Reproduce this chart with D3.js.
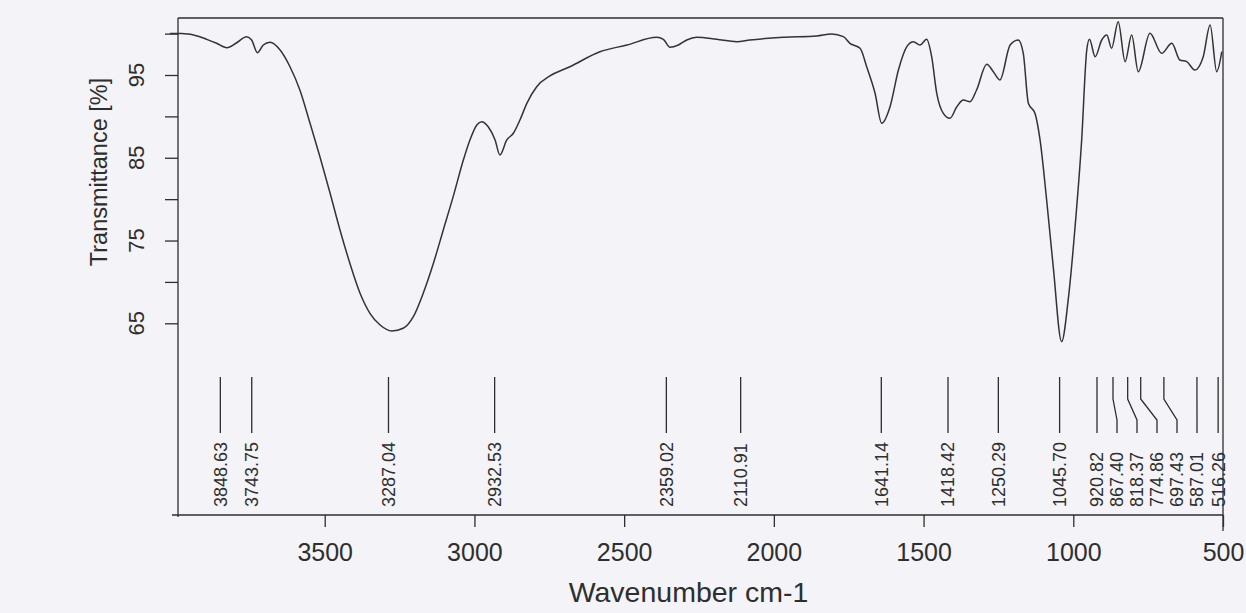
<!DOCTYPE html>
<html>
<head>
<meta charset="utf-8">
<script src="https://cdn.jsdelivr.net/npm/d3@7"></script>
<style>
  html, body { margin: 0; padding: 0; background: #f3f3f8; }
  svg { display: block; }
  text { font-family: "Liberation Sans", Arial, sans-serif; fill: #2e2e2e; }
</style>
</head>
<body>
<svg id="chart" width="1246" height="613"></svg>
<script>
// ---- data ----
const wavenumbers = [4017, 3978, 3917, 3894, 3861, 3827, 3794, 3761, 3744, 3725, 3705, 3683, 3649, 3616, 3583, 3549, 3516, 3482, 3449, 3416, 3382, 3349, 3315, 3276, 3238, 3204, 3171, 3137, 3104, 3071, 3037, 3015, 2992, 2976, 2954, 2931, 2915, 2892, 2870, 2848, 2825, 2792, 2748, 2681, 2581, 2491, 2391, 2369, 2347, 2319, 2291, 2258, 2191, 2124, 2080, 1969, 1857, 1807, 1768, 1746, 1712, 1690, 1662, 1640, 1612, 1584, 1556, 1534, 1512, 1490, 1473, 1456, 1434, 1412, 1389, 1367, 1345, 1323, 1289, 1267, 1245, 1211, 1184, 1167, 1150, 1128, 1111, 1089, 1067, 1039, 1017, 994, 972, 955, 946, 927, 905, 888, 872, 850, 827, 805, 783, 744, 705, 671, 644, 621, 594, 566, 543, 521, 504];
const transmittance = [100.0, 100.0, 99.63, 99.31, 98.83, 98.30, 98.90, 99.63, 99.23, 97.69, 98.62, 98.95, 98.02, 96.0, 93.19, 89.17, 85.13, 80.71, 76.28, 72.25, 68.63, 66.21, 64.80, 64.08, 64.40, 65.80, 68.63, 72.25, 76.28, 80.30, 84.73, 87.15, 88.96, 89.36, 88.75, 87.15, 85.34, 87.15, 87.96, 89.56, 91.58, 93.59, 94.88, 96.0, 97.81, 98.62, 99.55, 99.31, 98.35, 98.62, 99.23, 99.55, 99.31, 99.02, 99.23, 99.55, 99.71, 99.95, 99.63, 98.83, 98.23, 96.0, 92.79, 89.17, 91.17, 95.60, 98.42, 99.02, 98.62, 99.31, 97.21, 92.79, 90.37, 89.77, 91.17, 91.98, 91.77, 93.19, 96.3, 95.40, 94.40, 98.62, 99.23, 97.62, 91.58, 90.37, 87.15, 79.90, 71.84, 62.78, 67.82, 76.67, 87.15, 98.02, 99.31, 97.21, 99.23, 99.83, 98.23, 101.44, 96.61, 99.83, 95.40, 100.04, 97.62, 98.83, 96.81, 96.61, 95.60, 97.21, 101.04, 95.40, 97.81];
const peaks = [3848.63, 3743.75, 3287.04, 2932.53, 2359.02, 2110.91, 1641.14, 1418.42, 1250.29, 1045.70, 920.82, 867.40, 818.37, 774.86, 697.43, 587.01, 516.26];
const xTicks = [3500, 3000, 2500, 2000, 1500, 1000, 500];
const yTicks = [65, 70, 75, 80, 85, 90, 95, 100];
const yTickLabels = [65, 75, 85, 95];
const xTitle = "Wavenumber cm-1";
const yTitle = "Transmittance [%]";

(function () {
// ---- layout ----
const pL = 178, pR = 1223, pT = 18, pB = 515;
const svg = d3.select("#chart");
const ink = "#2e2e2e";

const x = d3.scaleLinear().domain([3990, 500]).range([pL, pR]);
const y = d3.scaleLinear().domain([65, 95]).range([323.3, 75]);

// frame
svg.append("line").attr("x1", pL).attr("x2", pR).attr("y1", pT).attr("y2", pT)
  .attr("stroke", ink).attr("stroke-width", 1.3);
svg.append("line").attr("x1", pR).attr("x2", pR).attr("y1", pT).attr("y2", pB + 16)
  .attr("stroke", ink).attr("stroke-width", 1.3);

// x axis
const xAxis = d3.axisBottom(x).tickValues(xTicks).tickSize(12).tickSizeOuter(0).tickPadding(10)
  .tickFormat(d3.format("d"));
const gx = svg.append("g").attr("transform", `translate(0,${pB})`).call(xAxis);
gx.select(".domain").attr("d", `M${pL - 6},0H${pR}`).attr("stroke", ink).attr("stroke-width", 1.3);
gx.selectAll(".tick line").attr("stroke", ink).attr("stroke-width", 1.3);
gx.selectAll(".tick text").attr("font-size", 25).attr("fill", ink)
  .attr("font-family", "Liberation Sans, Arial, sans-serif").attr("dy", "0.95em");

// y axis
const yAxis = d3.axisLeft(y).tickValues(yTicks).tickSize(13).tickSizeOuter(0).tickFormat("");
const gy = svg.append("g").attr("transform", `translate(${pL},0)`).call(yAxis);
gy.select(".domain").attr("d", `M0,${pT}V${pB + 2}`).attr("stroke", ink).attr("stroke-width", 1.3);
gy.selectAll(".tick line").attr("stroke", ink).attr("stroke-width", 1.3);

svg.append("g").selectAll("text").data(yTickLabels).join("text")
  .attr("transform", d => `translate(144,${y(d)}) rotate(-90)`)
  .attr("text-anchor", "middle")
  .attr("font-size", 22)
  .text(d => d);

svg.append("text")
  .attr("transform", "translate(107,172) rotate(-90)")
  .attr("text-anchor", "middle").attr("font-size", 23.5)
  .text(yTitle);

svg.append("text")
  .attr("x", 688.5).attr("y", 602)
  .attr("text-anchor", "middle").attr("font-size", 28.5)
  .text(xTitle);

// spectrum
const pts = wavenumbers.map((w, i) => [w, transmittance[i]]);
const line = d3.line().x(d => x(d[0])).y(d => y(d[1])).curve(d3.curveMonotoneX);
svg.append("path").datum(pts).attr("d", line)
  .attr("fill", "none").attr("stroke", "#333").attr("stroke-width", 1.5)
  .attr("stroke-linejoin", "round");

// peak markers: spread labels that would overlap
const spacing = 20;
const px = peaks.map(p => x(p));
const lx = [];
px.forEach((v, i) => { lx[i] = i === 0 ? v : Math.max(v, lx[i - 1] + spacing); });
for (let i = lx.length - 1; i >= 0; i--) {
  const lim = i === lx.length - 1 ? pR - 3 : lx[i + 1] - spacing;
  if (lx[i] > lim) lx[i] = lim;
}
const lineTop = 377, kinkA = 399, kinkB = 420, lineBot = 433, labelBase = 507;
const gp = svg.append("g");
peaks.forEach((p, i) => {
  gp.append("path")
    .attr("d", `M${px[i]},${lineTop}V${kinkA}L${lx[i]},${kinkB}V${lineBot}`)
    .attr("fill", "none").attr("stroke", ink).attr("stroke-width", 1.3);
  gp.append("text")
    .attr("transform", `translate(${lx[i]},${labelBase}) rotate(-90)`)
    .attr("dy", "0.36em")
    .attr("text-anchor", "start").attr("font-size", 18)
    .text(p.toFixed(2));
});
})();
</script>
</body>
</html>
